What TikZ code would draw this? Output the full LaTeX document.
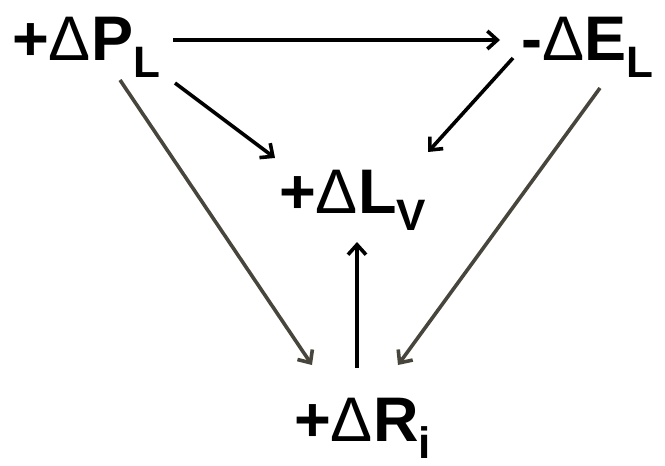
\documentclass[tikz,border=0pt]{standalone}
\usepackage{fontspec}
\setmainfont{Liberation Sans}
\usepackage{tikz}
\usetikzlibrary{arrows.meta, calc}
\definecolor{arrowgray}{RGB}{72, 70, 60}
\newcommand{\sub}[1]{{\fontsize{44}{44}\selectfont\raisebox{-17pt}{#1}}}
\newcommand{\dlt}{{\mdseries Δ}}

\begin{document}
\begin{tikzpicture}[
    x=1pt, y=-1pt,
    lbl/.style={inner sep=0pt, anchor=base west, font=\fontsize{63}{63}\selectfont\bfseries},
    blk/.style={line width=3.6pt, ->, >={Straight Barb[length=10pt, width=18pt]}},
    gry/.style={blk, draw=arrowgray}
]
\useasboundingbox (0,0) rectangle (665,466);

\node[lbl] (pl) at (12,60) {+\dlt P\sub{L}};
\node[lbl] (el) at (521,60) {-\dlt E\sub{L}};
\node[lbl] (lv) at (279,213) {+\dlt L\sub{V}};
\node[lbl] (ri) at (294,441) {+\dlt R\sub{i}};

\draw[blk] ($(pl.base west)+(161,-20)$) -- ($(el.base west)+(-21,-20)$);
\draw[blk] ($(pl.base west)+(163,23)$) -- ($(lv.base west)+(-4,-55)$);
\draw[blk] ($(el.base west)+(-8,-2)$) -- ($(lv.base west)+(149,-61)$);
\draw[gry] ($(pl.base west)+(108,20)$) -- ($(ri.base west)+(18,-76)$);
\draw[gry] ($(el.base west)+(79,28)$) -- ($(ri.base west)+(104,-76)$);
\draw[blk] ($(ri.base west)+(63,-73)$) -- ($(lv.base west)+(78,29)$);
\end{tikzpicture}
\end{document}
